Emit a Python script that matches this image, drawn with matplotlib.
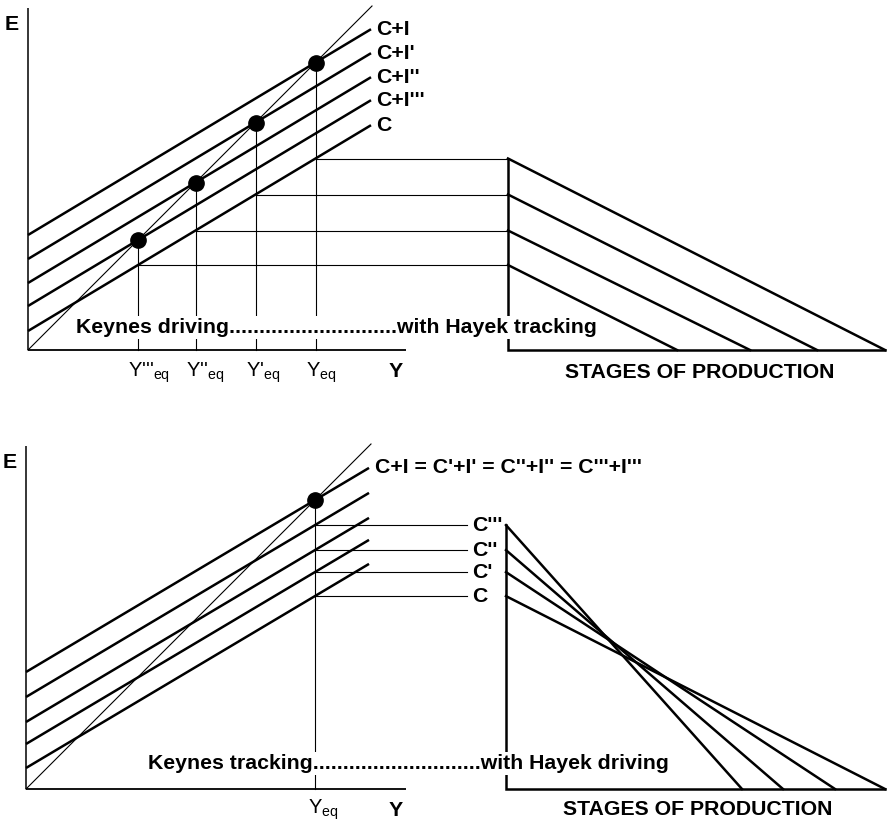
import matplotlib
matplotlib.use("Agg")
import matplotlib.pyplot as plt
import numpy as np

plt.rcParams["font.family"] = ["Liberation Sans", "DejaVu Sans"]
plt.rcParams["mathtext.fontset"] = "custom"
plt.rcParams["mathtext.rm"] = "Liberation Sans"

# --- top panel: Keynes driving, Hayek tracking ---
top_mpc = 0.6
top_intercepts = [115, 91, 67, 44, 19]          # C+I, C+I', C+I'', C+I''', C
top_labels = ["C+I", "C+I'", "C+I''", "C+I'''", "C"]
top_y_labels = ["Y", "Y'", "Y''", "Y'''"]       # equilibria of the four C+I lines
top_stage_depth = [377, 309, 242, 169]          # width of each production triangle
top_text = "Keynes driving" + "." * 28 + "with Hayek tracking"

# --- bottom panel: Keynes tracking, Hayek driving ---
bot_mpc = 0.595
bot_intercepts = [117, 92, 67, 45, 21]          # total spending, C''', C'', C', C
bot_top_label = "C+I = C'+I' = C''+I'' = C'''+I'''"
bot_c_labels = ["C'''", "C''", "C'", "C"]
bot_stage_depth = [236, 277, 329, 379]
bot_text = "Keynes tracking" + "." * 28 + "with Hayek driving"

line_end = 343      # right end of the spending lines
stage_x = 480       # where the stages of production start

fig = plt.figure(figsize=(8.91, 8.25), dpi=100)
ax_top = fig.add_axes([0, 413 / 825, 1, 412 / 825])
ax_bot = fig.add_axes([0, 0, 1, 413 / 825])
ax_top.set_xlim(-28, 863)
ax_top.set_ylim(-62, 350)
ax_bot.set_xlim(-26, 865)
ax_bot.set_ylim(-36, 377)
for ax in (ax_top, ax_bot):
    ax.axis("off")

thick = 1.8
thin = 0.8
bold = dict(fontsize=15.3, fontweight="bold", color="black")
white_box = dict(facecolor="white", edgecolor="none", pad=1.5)


def keynes_axes(ax, y_top, x_right, diag_end):
    ax.plot([0, 0], [0, y_top], color="black", lw=1.1, solid_capstyle="butt")
    ax.plot([0, x_right], [0, 0], color="black", lw=1.3, solid_capstyle="butt")
    ax.plot([0, diag_end], [0, diag_end], color="black", lw=thin)
    ax.text(-16, y_top - 17, "E", ha="center", va="center", **bold)
    ax.text(x_right - 10, -27, "Y", ha="center", va="baseline", **bold)


# ---------------- top ----------------
ax = ax_top
keynes_axes(ax, 342, 378, 344)
xs = np.array([0, line_end])
for a, lab in zip(top_intercepts, top_labels):
    ax.plot(xs, a + top_mpc * xs, color="black", lw=thick, solid_capstyle="butt")
    ax.text(line_end + 5, a + top_mpc * line_end, lab, ha="left", va="center", **bold)

c0 = top_intercepts[-1]
for a, ylab, depth in zip(top_intercepts[:-1], top_y_labels, top_stage_depth):
    y_eq = a / (1 - top_mpc)
    c_eq = c0 + top_mpc * y_eq
    ax.plot([y_eq, y_eq], [0, y_eq], color="black", lw=thin)
    ax.plot([y_eq, stage_x], [c_eq, c_eq], color="black", lw=thin)
    ax.plot([stage_x, stage_x + depth], [c_eq, 0], color="black", lw=thick)
    ax.plot(y_eq, y_eq, "o", color="black", ms=11, zorder=5)
    ax.text(y_eq - 10, -27, ylab + r"$_\mathregular{eq}$", ha="left", va="baseline",
            fontsize=14.5, color="black")

h_max = c0 + top_mpc * top_intercepts[0] / (1 - top_mpc)
ax.plot([stage_x, stage_x, stage_x + max(top_stage_depth)], [h_max, 0, 0],
        color="black", lw=thick, solid_joinstyle="miter")
ax.text(48, 17, top_text, ha="left", va="baseline", bbox=white_box, zorder=6, **bold)
ax.text(stage_x + 192, -28, "STAGES OF PRODUCTION", ha="center", va="baseline", **bold)

# ---------------- bottom ----------------
ax = ax_bot
keynes_axes(ax, 343, 380, 345)
for a in bot_intercepts:
    ax.plot(xs, a + bot_mpc * xs, color="black", lw=thick, solid_capstyle="butt")
ax.text(line_end + 6, bot_intercepts[0] + bot_mpc * line_end, bot_top_label,
        ha="left", va="center", **bold)

y_eq = bot_intercepts[0] / (1 - bot_mpc)
ax.plot([y_eq, y_eq], [0, y_eq], color="black", lw=thin)
ax.plot(y_eq, y_eq, "o", color="black", ms=11, zorder=5)
ax.text(y_eq - 7, -25, r"Y$_\mathregular{eq}$", ha="left", va="baseline",
        fontsize=14.5, color="black")

h_max = 0
for a, lab, depth in zip(bot_intercepts[1:], bot_c_labels, bot_stage_depth):
    c_eq = a + bot_mpc * y_eq
    h_max = max(h_max, c_eq)
    ax.plot([y_eq, stage_x - 39], [c_eq, c_eq], color="black", lw=thin)
    ax.text(stage_x - 34, c_eq, lab, ha="left", va="center", **bold)
    ax.plot([stage_x, stage_x + depth], [c_eq, 0], color="black", lw=thick)

ax.plot([stage_x, stage_x, stage_x + max(bot_stage_depth)], [h_max, 0, 0],
        color="black", lw=thick, solid_joinstyle="miter")
ax.text(122, 20, bot_text, ha="left", va="baseline", bbox=white_box, zorder=6, **bold)
ax.text(stage_x + 192, -26, "STAGES OF PRODUCTION", ha="center", va="baseline", **bold)

fig.savefig("out.png", dpi=100)
